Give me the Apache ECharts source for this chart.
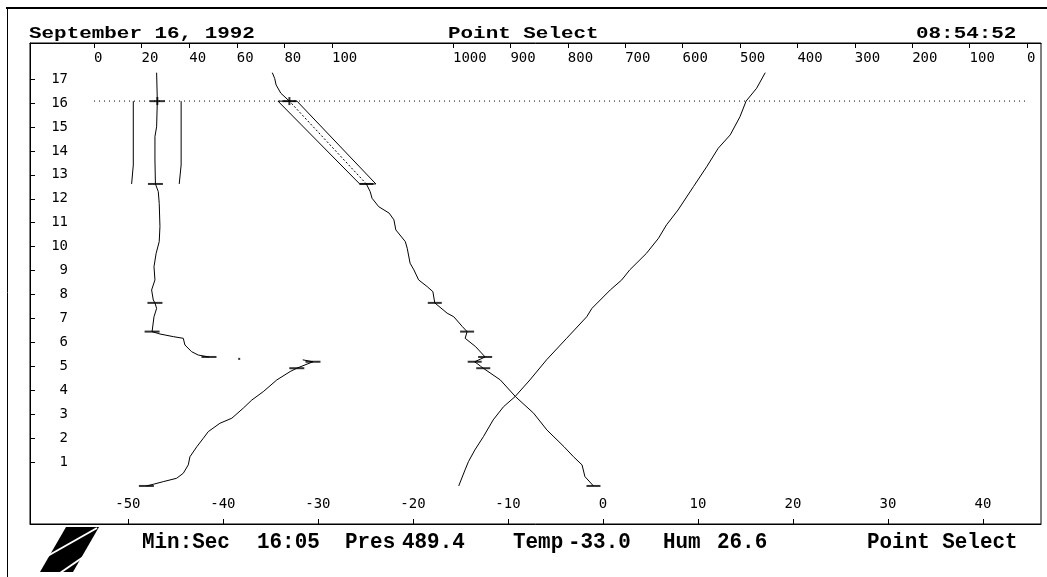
<!DOCTYPE html>
<html><head><meta charset="utf-8">
<script src="https://cdn.jsdelivr.net/npm/echarts@6/dist/echarts.min.js"></script>
<style>html,body{margin:0;padding:0;background:#fff}#c{width:1047px;height:577px}</style>
</head><body><div id="c"></div><script>
// ---------- data ----------
const yTicks = [1,2,3,4,5,6,7,8,9,10,11,12,13,14,15,16,17];
const tempTicks = [-50,-40,-30,-20,-10,0,10,20,30,40];
const humTicks = [0,20,40,60,80,100];
const presTicks = [1000,900,800,700,600,500,400,300,200,100,0];

// time in minutes vs temperature (deg C)
const tempTime = [0,0.39,0.88,1.22,1.64,2.34,3.04,3.73,4.43,4.92,5.01,5.19,5.39,5.47,5.82,6.17,6.45,6.66,7.07,7.22,7.65,8.12,8.33,8.61,9.03,9.31,9.93,10.21,10.70,11.12,11.40,11.67,12.02,12.30,12.62,16.08,16.41,16.76,17.03,17.27];
const tempVal  = [-1.0,-1.9,-2.2,-3.1,-4.1,-5.9,-7.3,-9.2,-10.8,-12.6,-12.9,-13.5,-12.4,-12.5,-13.4,-14.5,-14.3,-14.8,-15.7,-16.4,-17.7,-17.9,-18.5,-19.4,-19.9,-20.3,-20.6,-20.8,-21.8,-22.0,-22.5,-23.6,-24.3,-24.5,-24.9,-33.0,-33.9,-34.4,-34.55,-34.8];

// time vs relative humidity (%), null = gap
const humTime = [0,0.07,0.18,0.32,0.53,0.88,1.22,1.64,1.99,2.27,2.62,2.83,3.25,3.59,3.94,4.43,4.78,4.92,5.19,5.27,5.31,5.39,5.47,5.61,5.89,6.17,6.24,6.35,6.45,6.52,7.07,7.42,7.65,7.77,8.19,8.61,9.16,9.72,10.21,10.84,11.81,12.30,12.62,13.62,14.60,15.01,16.08,17.27];
const humVal  = [22.0,24.9,29.1,34.7,37.5,39.6,40.3,43.2,45.9,48.0,52.9,57.9,62.7,66.3,71.1,76.8,82.4,85.2,92.0,87.7,null,48.3,43.8,41.0,38.2,37.5,33.3,27.7,24.4,24.7,25.2,26.3,25.6,24.9,24.2,25.6,25.2,26.1,27.4,27.7,27.4,27.0,25.8,25.6,25.6,26.3,26.6,26.3];
const humDotTime = [5.31];
const humDotVal  = [61.0];

// time vs pressure (hPa)
const presTime = [0,0.67,1.02,1.50,2.06,2.76,3.31,3.73,4.43,5.27,6.17,7.07,7.42,8.19,8.61,9.03,9.72,10.35,10.91,11.53,12.51,13.34,14.11,14.67,15.43,16.08,16.62,17.27];
const presVal  = [990,979,973,962,947,930,912,892,866,837,802,767,758,726,706,692,663,642,628,608,581,558,538,517,500,489.4,471,456];

// significant levels (tick marks)
const sigTime = [0,4.92,5.19,5.39,6.45,7.65,12.62,16.08];
const sigTemp = [-1.0,-12.6,-13.5,-12.4,-14.3,-17.7,-24.9,-33.0];
const sigHum  = [22.0,85.2,92.0,48.3,24.4,25.6,25.8,26.6];

// edit band over the gap
const gapTime   = [12.62,16.08];
const gapTempLo = [-25.6,-34.2];
const gapTempHi = [-23.9,-32.2];
const humBandTime = [16.08,13.41,13.41,12.62];
const humBandLo   = [16.5,16.5,15.8,15.8];
const humBandHi   = [36.6,36.6,35.8,35.8];

// selected point
const selTime = 16 + 5/60;
const selPres = 489.4, selTemp = -33.0, selHum = 26.6;
const headerDate = 'September 16, 1992';
const headerTitle = 'Point Select';
const headerClock = '08:54:52';

// ---------- axes ranges ----------
const Y_MIN = -1.59, Y_MAX = 18.51;
const T_MIN = -60.3, T_MAX = 46.1;
const H_MIN = -26.9, H_MAX = 397.9;
const P_MIN = -24.4, P_MAX = 1736.9;

const FONT = 'DejaVu Sans Mono';
const pair = (xs, ys) => xs.map((t, i) => ys[i] == null ? ['-', '-'] : [ys[i], t]);

const tempLow  = pair(tempTime, tempVal).filter(d => d[1] <= gapTime[0]);
const tempHigh = pair(tempTime, tempVal).filter(d => d[1] >= gapTime[1]);
const tempGap  = [tempLow[tempLow.length - 1], tempHigh[0]];
const tempBand = [[gapTempLo[0], gapTime[0]], [gapTempLo[1], gapTime[1]], [gapTempHi[1], gapTime[1]], [gapTempHi[0], gapTime[0]], [gapTempLo[0], gapTime[0]]];
// pressure 0 expressed on the humidity scale (same pixel position)
const presZeroFrac = (P_MAX - 0) / (P_MAX - P_MIN);
const humAtPresZero = H_MIN + presZeroFrac * (H_MAX - H_MIN);

const blk = '#000';
const lineS = (name, xi, data, extra) => Object.assign({
  name, type: 'line', xAxisIndex: xi, yAxisIndex: 0, data,
  symbol: 'none', silent: true, animation: false, connectNulls: false,
  lineStyle: { color: blk, width: 1 }
}, extra || {});
const markS = (name, xi, data, size) => ({
  name, type: 'scatter', xAxisIndex: xi, yAxisIndex: 0, data,
  symbol: 'rect', symbolSize: size, silent: true, animation: false,
  itemStyle: { color: blk }
});

const axisLbl = (vals, extra) => Object.assign({ inside: true, customValues: vals, color: blk, fontFamily: FONT, fontSize: 14, formatter: v => String(v) }, extra);
const axisTk = (vals) => ({ show: true, inside: true, length: 5, customValues: vals, lineStyle: { color: blk, width: 1 } });
const axLine = (show) => ({ show, onZero: false, lineStyle: { color: blk, width: 1 } });

const mm = Math.floor(selTime), ss = Math.round((selTime - mm) * 60);
const clock = String(mm).padStart(2, '0') + ':' + String(ss).padStart(2, '0');

const hdrFont = 'bold 17px "Liberation Mono"';
const stFont = 'bold 22px "Liberation Mono"';
const txt = (x, y, text, font, sx) => ({
  type: 'text', x, y, scaleX: sx, silent: true,
  style: { text, font, fill: blk, textVerticalAlign: 'middle', verticalAlign: 'middle' }
});
const statusItems = [
  [142, 'Min:Sec'], [257, clock], [345, 'Pres'], [402, selPres.toFixed(1)],
  [513, 'Temp'], [568, selTemp.toFixed(1)], [663, 'Hum'], [717, selHum.toFixed(1)],
  [867, headerTitle]
];

const chart = echarts.init(document.getElementById('c'), null, { renderer: 'canvas' });
chart.setOption({
  backgroundColor: '#fff',
  animation: false,
  grid: { left: 30, top: 43, right: 6, bottom: 53, show: true, borderColor: blk, borderWidth: 1, backgroundColor: 'transparent' },
  xAxis: [
    { type: 'value', position: 'bottom', min: T_MIN, max: T_MAX,
      axisLine: axLine(true), axisTick: axisTk(tempTicks),
      axisLabel: axisLbl(tempTicks, { margin: 13 }), splitLine: { show: false } },
    { type: 'value', position: 'top', min: H_MIN, max: H_MAX,
      axisLine: axLine(true), axisTick: axisTk(humTicks),
      axisLabel: axisLbl(humTicks, { margin: 8, align: 'left' }), splitLine: { show: false } },
    { type: 'value', position: 'top', inverse: true, min: P_MIN, max: P_MAX,
      axisLine: axLine(false), axisTick: axisTk(presTicks),
      axisLabel: axisLbl(presTicks, { margin: 8, align: 'left' }), splitLine: { show: false } }
  ],
  yAxis: [
    { type: 'value', min: Y_MIN, max: Y_MAX,
      axisLine: axLine(true), axisTick: axisTk(yTicks),
      axisLabel: axisLbl(yTicks, { margin: 38, align: 'right' }), splitLine: { show: false } }
  ],
  series: [
    lineS('selection', 1, [[0, selTime], [humAtPresZero, selTime]], { lineStyle: { color: blk, width: 1, type: [1, 4] } }),
    lineS('humidity', 1, pair(humTime, humVal)),
    markS('humidityDots', 1, pair(humDotTime, humDotVal), 2),
    lineS('humLo', 1, pair(humBandTime, humBandLo)),
    lineS('humHi', 1, pair(humBandTime, humBandHi)),
    lineS('tempLow', 0, tempLow),
    lineS('tempHigh', 0, tempHigh),
    lineS('tempGap', 0, tempGap, { lineStyle: { color: blk, width: 1, type: [2, 2] } }),
    lineS('tempBand', 0, tempBand),
    lineS('pressure', 2, pair(presTime, presVal)),
    markS('tempSig', 0, pair(sigTime, sigTemp), [14, 2]),
    markS('humSig', 1, pair(sigTime, sigHum), [15, 2]),
    markS('selT', 0, [[selTemp, selTime]], [2, 8]),
    markS('selH', 1, [[selHum, selTime]], [2, 8])
  ],
  graphic: [
    { type: 'line', silent: true, shape: { x1: 6, y1: 8, x2: 1047, y2: 8 }, style: { stroke: blk, lineWidth: 2 } },
    { type: 'line', silent: true, shape: { x1: 7.5, y1: 8, x2: 7.5, y2: 577 }, style: { stroke: blk, lineWidth: 1 } },
    txt(29, 34, headerDate, hdrFont, 1.23),
    txt(448, 34, headerTitle, hdrFont, 1.23),
    txt(916, 34, headerClock, hdrFont, 1.23),
    ...statusItems.map(s => txt(s[0], 542, s[1], stFont, 0.95)),
    { type: 'polygon', silent: true, shape: { points: [[66, 527], [99, 527], [73, 572], [40, 572]] }, style: { fill: blk } },
    { type: 'line', silent: true, shape: { x1: 44, y1: 558, x2: 97, y2: 528 }, style: { stroke: '#fff', lineWidth: 2 } },
    { type: 'line', silent: true, shape: { x1: 60, y1: 573, x2: 92, y2: 551 }, style: { stroke: '#fff', lineWidth: 2 } }
  ]
});
</script></body></html>
